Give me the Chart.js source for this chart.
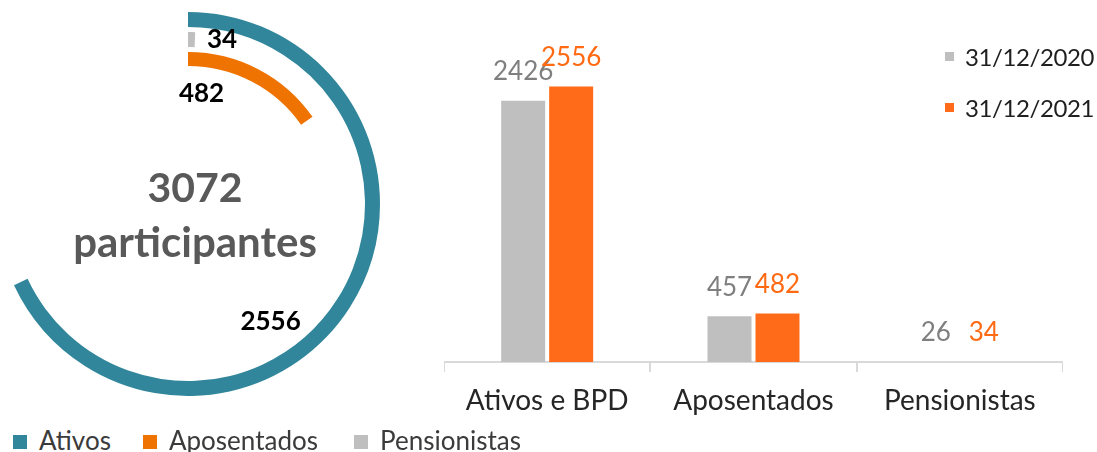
<!DOCTYPE html>
<html>
<head>
<meta charset="utf-8">
<script src="https://cdn.jsdelivr.net/npm/chart.js@4.4.1/dist/chart.umd.min.js"></script>
<style>
  body { margin: 0; background: #fff; font-family: Lato, sans-serif; }
  #page { position: relative; width: 1097px; height: 452px; overflow: hidden; }
  #ringBox { position: absolute; left: -4px; top: 12px; width: 384px; height: 384px; }
  #barBox { position: absolute; left: 444px; top: 0; width: 619px; height: 452px; }
  .item { position: absolute; display: flex; align-items: center; height: 30px; white-space: nowrap; }
  .item i { display: inline-block; flex: none; }
  .series i { width: 9px; height: 9px; margin-right: 11px; }
  .series span { font-size: 24px; letter-spacing: -0.4px; color: #1f1f1f; }
  .ring i { width: 14px; height: 14px; margin-right: 12px; }
  .ring span { font-size: 26px; color: #3b3b3b; }
</style>
</head>
<body>
<div id="page">
  <div id="ringBox"><canvas id="ringChart"></canvas></div>
  <div id="barBox"><canvas id="barChart"></canvas></div>
  <div id="seriesLegend"></div>
  <div id="ringLegend"></div>
</div>
<script>
// participantes por tipo (31/12/2021)
const ringLabels = ["Ativos", "Aposentados", "Pensionistas"];
const ringValues = [2556, 482, 34];
const ringTotals = [3756, 3155, 5100];
const totalParticipants = 3072;

// comparativo 2020 x 2021
const barCategories = ["Ativos e BPD", "Aposentados", "Pensionistas"];
const seriesNames = ["31/12/2020", "31/12/2021"];
const values2020 = [2426, 457, 26];
const values2021 = [2556, 482, 34];

const ringColors = ["#31869b", "#ef7300", "#bfbfbf"];
const ringOrder = [0, 2, 1]; // outer -> inner
const seriesColors = ["#bfbfbf", "#ff6b18"];
const seriesLabelColors = ["#7f7f7f", "#ff6a13"];

// legends (html)
seriesNames.forEach((name, i) => {
  const d = document.createElement("div");
  d.className = "item series";
  d.style.left = "945px";
  d.style.top = (41 + i * 51) + "px";
  d.innerHTML = `<i style="background:${seriesColors[i]}"></i><span>${name}</span>`;
  document.getElementById("seriesLegend").appendChild(d);
});
const ringLegendX = [13, 143, 354];
ringLabels.forEach((name, i) => {
  const d = document.createElement("div");
  d.className = "item ring";
  d.style.left = ringLegendX[i] + "px";
  d.style.top = "425px";
  d.innerHTML = `<i style="background:${ringColors[i]};margin-top:4px"></i><span>${name}</span>`;
  document.getElementById("ringLegend").appendChild(d);
});

const ringText = {
  id: "ringText",
  afterDraw(chart) {
    const ctx = chart.ctx;
    ctx.save();
    const pos = (arc, deg, r) => {
      const a = arc.startAngle + deg * Math.PI / 180;
      return [arc.x + r * Math.cos(a), arc.y + r * Math.sin(a)];
    };
    chart.data.datasets.forEach((ds, di) => {
      if (ds.ring === undefined) return;
      const arc = chart.getDatasetMeta(di).data[0];
      const i = ds.ring;
      ctx.fillStyle = "#000";
      ctx.font = "bold 26px Lato";
      ctx.textBaseline = "middle";
      let p;
      if (i === 0) {
        ctx.textAlign = "center";
        p = pos(arc, 145, arc.innerRadius - 33);
      } else if (i === 1) {
        ctx.textAlign = "center";
        p = pos(arc, 7, arc.innerRadius - 27);
      } else {
        ctx.textAlign = "left";
        const mid = (arc.innerRadius + arc.outerRadius) / 2;
        const a = arc.endAngle;
        p = [arc.x + mid * Math.cos(a) + 12, arc.y + mid * Math.sin(a)];
      }
      ctx.fillText(ringValues[i], p[0], p[1]);
    });
    const c = chart.getDatasetMeta(0).data[0];
    ctx.fillStyle = "#595959";
    ctx.textAlign = "center";
    ctx.textBaseline = "alphabetic";
    ctx.font = "bold 41px Lato";
    ctx.fillText(totalParticipants, c.x + 7, c.y - 2);
    ctx.font = "bold 42px Lato";
    ctx.fillText("participantes", c.x + 7, c.y + 53);
    ctx.restore();
  }
};

const barValueLabels = {
  id: "barValueLabels",
  afterDatasetsDraw(chart) {
    const { ctx, chartArea } = chart;
    ctx.save();
    ctx.font = "26px Lato";
    ctx.textAlign = "center";
    ctx.textBaseline = "middle";
    chart.data.datasets.forEach((ds, di) => {
      chart.getDatasetMeta(di).data.forEach((bar, i) => {
        const top = Math.min(bar.y, chartArea.bottom);
        ctx.fillStyle = seriesLabelColors[di];
        ctx.fillText(ds.data[i], bar.x, top - 29);
      });
    });
    ctx.restore();
  }
};

function drawCharts() {
  const ringSets = [];
  ringOrder.forEach((i, n) => {
    if (n > 0) ringSets.push({ data: [1], backgroundColor: ["rgba(0,0,0,0)"], weight: 5 });
    ringSets.push({
      label: ringLabels[i],
      ring: i,
      data: [ringValues[i], ringTotals[i] - ringValues[i]],
      backgroundColor: [ringColors[i], "rgba(0,0,0,0)"],
      weight: i === 1 ? 14 : 15
    });
  });

  new Chart(document.getElementById("ringChart"), {
    type: "doughnut",
    data: { labels: ["valor", "resto"], datasets: ringSets },
    options: {
      responsive: true,
      maintainAspectRatio: false,
      animation: false,
      events: [],
      cutout: 138,
      borderWidth: 0,
      elements: { arc: { borderWidth: 0 } },
      layout: { padding: 0 },
      plugins: { legend: { display: false }, tooltip: { enabled: false } }
    },
    plugins: [ringText]
  });

  new Chart(document.getElementById("barChart"), {
    type: "bar",
    data: {
      labels: barCategories,
      datasets: [
        { label: seriesNames[0], data: values2020, backgroundColor: seriesColors[0], clip: 0 },
        { label: seriesNames[1], data: values2021, backgroundColor: seriesColors[1], clip: 0 }
      ]
    },
    options: {
      responsive: true,
      maintainAspectRatio: false,
      animation: false,
      events: [],
      layout: { padding: { top: 38, bottom: 30, left: 0, right: 0 } },
      datasets: { bar: { categoryPercentage: 0.465, barPercentage: 0.917 } },
      scales: {
        x: {
          grid: { offset: true, drawOnChartArea: false, drawTicks: true, tickLength: 10, color: "#d9d9d9", lineWidth: 2 },
          border: { color: "#d9d9d9", width: 2 },
          ticks: { color: "#262626", font: { family: "Lato", size: 28 }, padding: 12 },
          afterFit: (s) => { s.height = 60; }
        },
        y: { display: false, min: 40, max: 3000 }
      },
      plugins: { legend: { display: false }, tooltip: { enabled: false } }
    },
    plugins: [barValueLabels]
  });
}

Promise.all([
  document.fonts.load("26px Lato"),
  document.fonts.load("bold 26px Lato")
]).then(drawCharts, drawCharts);
</script>
</body>
</html>
